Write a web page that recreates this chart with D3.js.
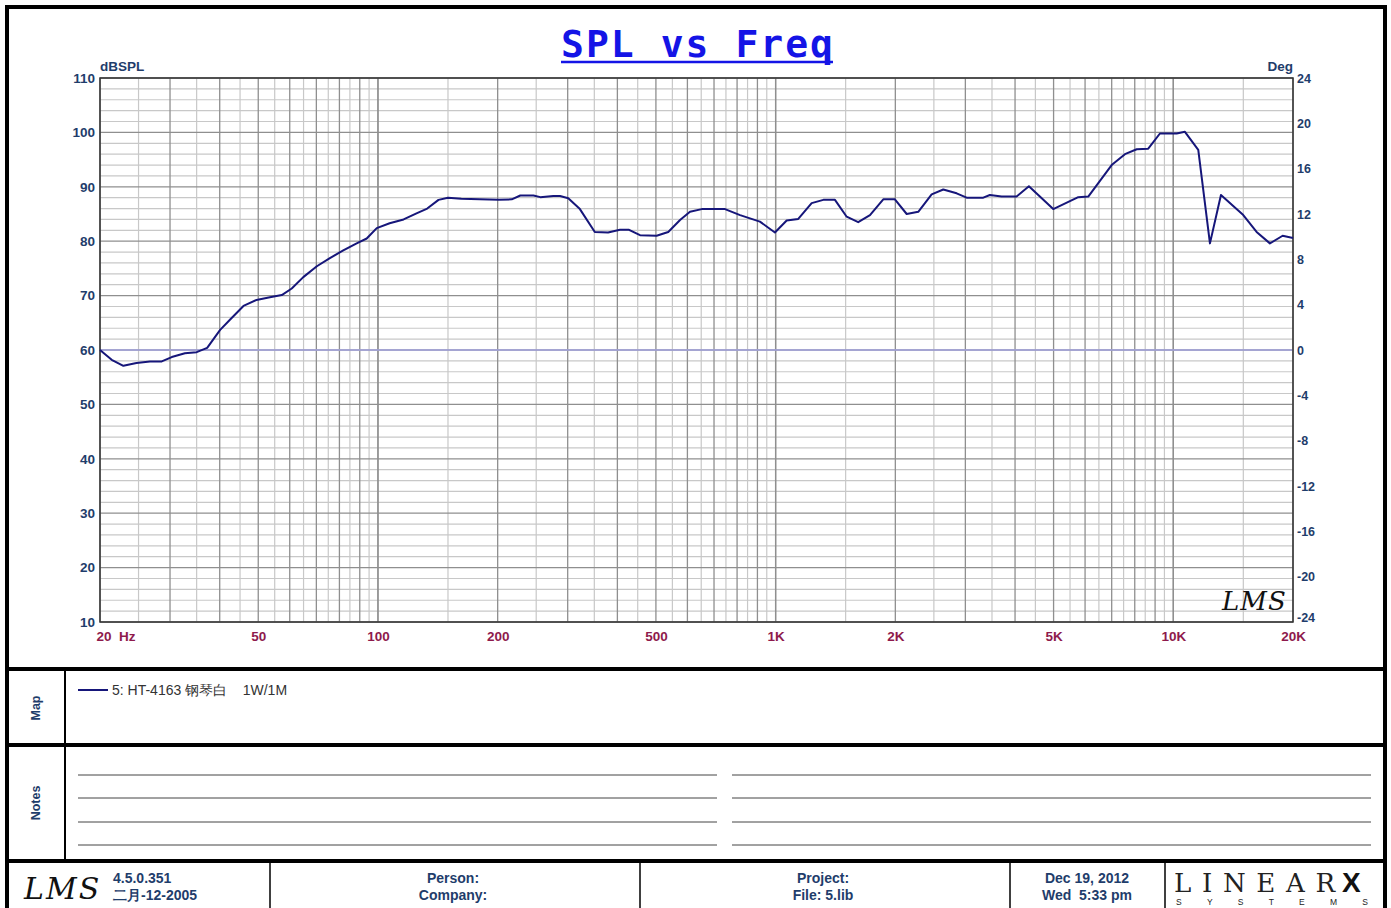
<!DOCTYPE html>
<html>
<head>
<meta charset="utf-8">
<script src="https://cdn.jsdelivr.net/npm/d3@7"></script>
<style>
  html, body { margin: 0; padding: 0; background: #fff; }
  svg { display: block; }
</style>
</head>
<body>
<svg id="chart" width="1391" height="908"></svg>
<script>
// ---------- DATA ----------
const freqHz = [20, 21.4, 22.9, 24.7, 26.7, 28.6, 30.3, 32.7, 35.0, 37.2, 40.1, 42.5, 45.9, 49.5, 53.5, 57.3,
  60.7, 64.9, 70.2, 75.7, 81.8, 88.4, 93.7, 99.3, 107, 116, 125, 133, 142, 150, 162, 201, 217, 228, 246, 256,
  276, 287, 301, 322, 351, 379, 406, 428, 456, 502, 537, 575, 609, 652, 746, 814, 913, 996, 1066, 1140, 1232,
  1318, 1410, 1509, 1613, 1727, 1865, 1995, 2136, 2284, 2468, 2640, 2852, 3022, 3328, 3458, 3700, 4036, 4334,
  4990, 5768, 6112, 6540, 6998, 7558, 8090, 8650, 9256, 10198, 10698, 11556, 12364, 13178, 14996, 16200,
  17498, 18834, 20000];
const splDb = [60.0, 58.2, 57.1, 57.6, 57.9, 57.9, 58.7, 59.4, 59.6, 60.4, 63.7, 65.6, 68.1, 69.2, 69.7, 70.1,
  71.3, 73.4, 75.4, 76.9, 78.3, 79.6, 80.5, 82.4, 83.3, 84.0, 85.1, 86.0, 87.6, 88.0, 87.8, 87.6, 87.7, 88.4, 88.4, 88.1,
  88.3, 88.3, 87.9, 85.9, 81.7, 81.6, 82.1, 82.1, 81.1, 81.0, 81.7, 83.9, 85.4, 85.9, 85.9, 84.8, 83.6, 81.6, 83.8, 84.1, 87.0,
  87.6, 87.6, 84.5, 83.5, 84.8, 87.7, 87.7, 85.0, 85.4, 88.6, 89.5, 88.8, 88.0, 88.0, 88.5, 88.2, 88.2, 90.1,
  85.9, 88.1, 88.2, 91.1, 94.0, 96.0, 96.9, 97.0, 99.8, 99.8, 100.1, 96.8, 79.6, 88.5, 84.8, 81.7,
  79.6, 81.0, 80.6];

const leftTicks = [10, 20, 30, 40, 50, 60, 70, 80, 90, 100, 110];
const rightTicks = [-24, -20, -16, -12, -8, -4, 0, 4, 8, 12, 16, 20, 24];
const rightTickLabels = ["-24", "-20", "-16", "-12", "-8", "-4", "0", "4", "8", "12", "16", "20", "24"];
const xTickValues = [20, 50, 100, 200, 500, 1000, 2000, 5000, 10000, 20000];
const xTickLabels = ["20  Hz", "50", "100", "200", "500", "1K", "2K", "5K", "10K", "20K"];
const seriesName = "5: HT-4163 钢琴白    1W/1M";

// ---------- LAYOUT ----------
const svg = d3.select("#chart");
const P = { left: 100, right: 1293, top: 78, bottom: 622 };
const x = d3.scaleLog().domain([20, 20000]).range([P.left, P.right]);
const y = d3.scaleLinear().domain([10, 110]).range([P.bottom, P.top]);
const yR = d3.scaleLinear().domain([-24, 24]).range([P.bottom, P.top]);

const navyText = "#1f3d6b";
const xLabelColor = "#8e1a4c";
const font = "'Liberation Sans', Arial, sans-serif";

// outer frame
svg.append("rect").attr("x", 7).attr("y", 7).attr("width", 1378).attr("height", 960)
  .attr("fill", "none").attr("stroke", "#000").attr("stroke-width", 4);

// title
svg.append("text").attr("x", 561).attr("y", 57)
  .attr("font-family", "'DejaVu Sans Mono', monospace").attr("font-size", 38).attr("font-weight", "bold")
  .attr("textLength", 272).attr("lengthAdjust", "spacing")
  .attr("fill", "#1414e6").attr("xml:space", "preserve").text("SPL vs Freq");
svg.append("line").attr("x1", 561).attr("x2", 833).attr("y1", 62).attr("y2", 62)
  .attr("stroke", "#1414e6").attr("stroke-width", 2.5);

// ---------- GRID ----------
const vGrid = [];
[10, 100, 1000, 10000].forEach(d => {
  for (let m = 1; m <= 10; m += 0.5) {
    const v = d * m;
    if (v >= 20 && v <= 20000) vGrid.push({ v, major: Number.isInteger(m) });
  }
});
const hGrid = d3.range(10, 111, 2).map(v => ({ v, major: v % 10 === 0 }));

const grid = svg.append("g");
grid.selectAll(".hmin").data(hGrid.filter(d => !d.major)).join("line")
  .attr("x1", P.left).attr("x2", P.right).attr("y1", d => y(d.v)).attr("y2", d => y(d.v))
  .attr("stroke", "#c8c8c8").attr("stroke-width", 1.2);
grid.selectAll(".vmin").data(vGrid.filter(d => !d.major)).join("line")
  .attr("x1", d => x(d.v)).attr("x2", d => x(d.v)).attr("y1", P.top).attr("y2", P.bottom)
  .attr("stroke", "#c8c8c8").attr("stroke-width", 1.2);
grid.selectAll(".hmaj").data(hGrid.filter(d => d.major)).join("line")
  .attr("x1", P.left).attr("x2", P.right).attr("y1", d => y(d.v)).attr("y2", d => y(d.v))
  .attr("stroke", "#8f8f8f").attr("stroke-width", 1.3);
grid.selectAll(".vmaj").data(vGrid.filter(d => d.major)).join("line")
  .attr("x1", d => x(d.v)).attr("x2", d => x(d.v)).attr("y1", P.top).attr("y2", P.bottom)
  .attr("stroke", "#8f8f8f").attr("stroke-width", 1.3);
// zero-degree reference line
grid.append("line").attr("x1", P.left).attr("x2", P.right).attr("y1", yR(0)).attr("y2", yR(0))
  .attr("stroke", "#a3a3df").attr("stroke-width", 1.5);
// plot border
grid.append("rect").attr("x", P.left).attr("y", P.top).attr("width", P.right - P.left)
  .attr("height", P.bottom - P.top).attr("fill", "none").attr("stroke", "#333").attr("stroke-width", 1.5);

// ---------- AXES ----------
function styleAxis(g, color) {
  g.select(".domain").remove();
  g.selectAll(".tick line").remove();
  g.selectAll("text").attr("font-family", font).attr("font-weight", "bold")
    .attr("font-size", 13.5).attr("fill", color);
}
const gl = svg.append("g").attr("transform", `translate(${P.left},0)`)
  .call(d3.axisLeft(y).tickValues(leftTicks).tickSize(0).tickPadding(5));
styleAxis(gl, navyText);
const gr = svg.append("g").attr("transform", `translate(${P.right},0)`)
  .call(d3.axisRight(yR).tickValues(rightTicks).tickSize(0).tickPadding(4)
    .tickFormat((d, i) => rightTickLabels[i]));
styleAxis(gr, navyText);
gr.selectAll("text").attr("font-size", 12.5);
gr.selectAll(".tick").filter(d => d === -24).select("text").attr("dy", "-0.05em");
const gb = svg.append("g").attr("transform", `translate(0,${P.bottom})`)
  .call(d3.axisBottom(x).tickValues(xTickValues).tickSize(0).tickPadding(6)
    .tickFormat((d, i) => xTickLabels[i]));
styleAxis(gb, xLabelColor);
gb.selectAll("text").attr("dy", "0.95em");
gb.selectAll(".tick").filter(d => d === 20).select("text")
  .attr("text-anchor", "start").attr("dx", -4).attr("xml:space", "preserve");

svg.append("text").attr("x", 100).attr("y", 71).attr("font-family", font).attr("font-weight", "bold")
  .attr("font-size", 13.5).attr("fill", navyText).text("dBSPL");
svg.append("text").attr("x", 1293).attr("y", 71).attr("text-anchor", "end").attr("font-family", font)
  .attr("font-weight", "bold").attr("font-size", 13.5).attr("fill", navyText).text("Deg");

// ---------- CURVE ----------
const pts = freqHz.map((f, i) => [f, splDb[i]]);
svg.append("path").datum(pts)
  .attr("d", d3.line().x(d => x(d[0])).y(d => y(d[1])))
  .attr("fill", "none").attr("stroke", "#16167a").attr("stroke-width", 2).attr("stroke-linejoin", "round");

// LMS watermark in plot
svg.append("text").attr("x", 1222).attr("y", 610).attr("font-family", "'DejaVu Serif', serif")
  .attr("font-style", "italic").attr("font-size", 26).attr("fill", "#111").attr("letter-spacing", 1)
  .text("LMS");

// ---------- PANELS ----------
const thick = (y0) => svg.append("line").attr("x1", 7).attr("x2", 1385).attr("y1", y0).attr("y2", y0)
  .attr("stroke", "#000").attr("stroke-width", 4);
thick(669); thick(745); thick(861);
svg.append("line").attr("x1", 65).attr("x2", 65).attr("y1", 669).attr("y2", 861)
  .attr("stroke", "#000").attr("stroke-width", 2);

function vlabel(txt, cx, cy) {
  svg.append("text").attr("transform", `translate(${cx},${cy}) rotate(-90)`).attr("text-anchor", "middle")
    .attr("font-family", font).attr("font-weight", "bold").attr("font-size", 12.5).attr("fill", navyText).text(txt);
}
vlabel("Map", 40, 708);
vlabel("Notes", 40, 803);

// legend
svg.append("line").attr("x1", 78).attr("x2", 108).attr("y1", 690).attr("y2", 690)
  .attr("stroke", "#16167a").attr("stroke-width", 2);
svg.append("text").attr("x", 112).attr("y", 695).attr("font-family", font).attr("font-size", 14)
  .attr("fill", "#333").attr("xml:space", "preserve").text(seriesName);

// notes lines
const noteY = [775, 798, 822, 845];
noteY.forEach(ny => {
  [[78, 717], [732, 1371]].forEach(([a, b]) => {
    svg.append("line").attr("x1", a).attr("x2", b).attr("y1", ny).attr("y2", ny)
      .attr("stroke", "#444").attr("stroke-width", 1);
  });
});

// footer
[270, 640, 1010, 1165].forEach(fx => {
  svg.append("line").attr("x1", fx).attr("x2", fx).attr("y1", 861).attr("y2", 908)
    .attr("stroke", "#000").attr("stroke-width", 1.5);
});
function ftext(txt, fx, fy, anchor) {
  svg.append("text").attr("x", fx).attr("y", fy).attr("text-anchor", anchor || "middle")
    .attr("font-family", font).attr("font-weight", "bold").attr("font-size", 14)
    .attr("fill", navyText).attr("xml:space", "preserve").text(txt);
}
ftext("4.5.0.351", 113, 883, "start");
ftext("二月-12-2005", 113, 900, "start");
ftext("Person:", 453, 883);
ftext("Company:", 453, 900);
ftext("Project:", 823, 883);
ftext("File: 5.lib", 823, 900);
ftext("Dec 19, 2012", 1087, 883);
ftext("Wed  5:33 pm", 1087, 900);

svg.append("text").attr("x", 24).attr("y", 899).attr("font-family", "'DejaVu Serif', serif")
  .attr("font-style", "italic").attr("font-size", 30).attr("fill", "#111").attr("letter-spacing", 2).text("LMS");

svg.append("text").attr("x", 1174).attr("y", 892).attr("font-family", "'DejaVu Serif', serif")
  .attr("font-weight", "300").attr("font-size", 26).attr("fill", "#222").attr("letter-spacing", 9)
  .attr("textLength", 170).text("LINEAR");
svg.append("text").attr("x", 1342).attr("y", 892).attr("font-family", font).attr("font-weight", "bold")
  .attr("font-size", 28).attr("fill", "#111").text("X");
svg.append("text").attr("x", 1176).attr("y", 905).attr("font-family", font)
  .attr("font-size", 8.5).attr("fill", "#222").attr("textLength", 192).text("SYSTEMS");
</script>
</body>
</html>
